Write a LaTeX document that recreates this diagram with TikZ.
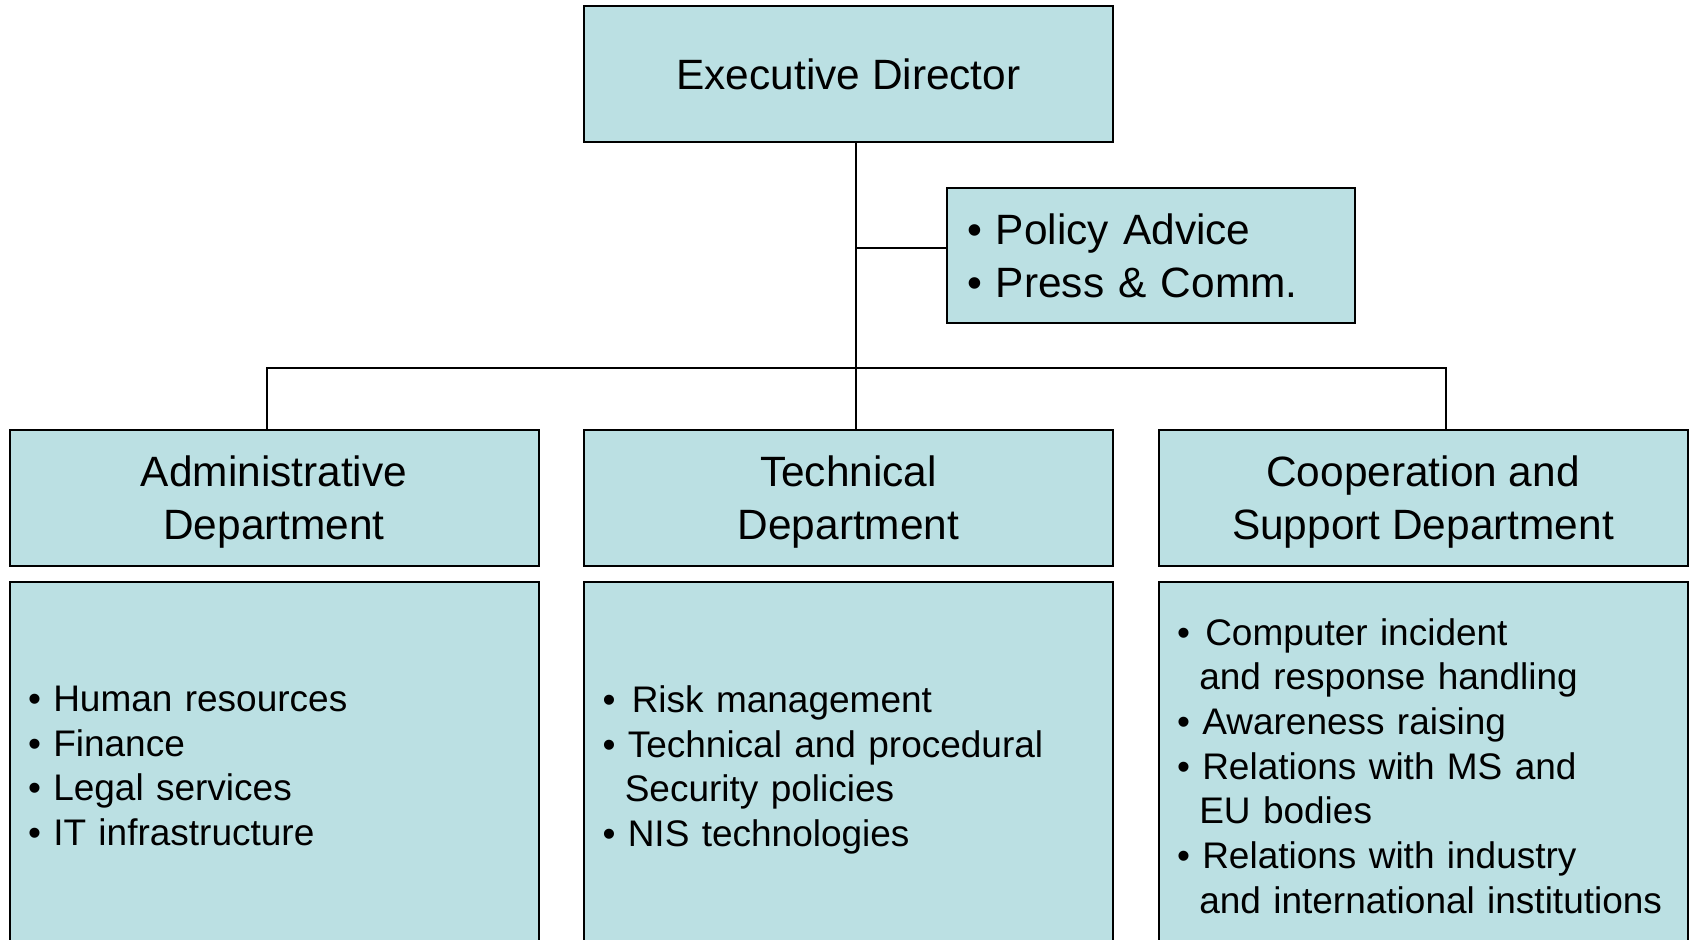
\documentclass[tikz,border=0pt]{standalone}
\usepackage{fontspec}
\setmainfont{Liberation Sans}
\definecolor{orgfill}{RGB}{187,224,227}

\begin{document}
\begin{tikzpicture}[
  box/.style={draw=black, line width=1pt, fill=orgfill, inner sep=0pt},
  head/.style={box, minimum width=264.5pt, minimum height=68pt, align=center, font=\fontsize{21.2}{26.5}\selectfont},
  dept/.style={head, text depth=-2pt},
  list/.style={box, minimum height=184pt, text width=246pt, inner xsep=9.25pt, align=left, font=\fontsize{18.5}{22.35}\selectfont},
  link/.style={line width=1pt}]
\def\itm{\textbullet\ }
\def\cnt{\hphantom{\textbullet\ }\hspace{-1.5pt}}
\useasboundingbox (0,0) rectangle (846.5pt,-470pt);
\clip (0,0) rectangle (846.5pt,-470pt);
% top level
\node[head] (ed) at (424.25pt,-37pt) {Executive Director};
\node[box, minimum width=204pt, minimum height=67.5pt, text width=184pt, inner xsep=10pt, align=left, font=\fontsize{21.2}{26.5}\selectfont] (pol) at (575.5pt,-127.75pt) {\itm Policy Advice\\ \itm Press \& Comm.};
% departments
\node[dept] (adm) at (137pt,-249pt) {Administrative\\ Department};
\node[dept] (tech) at (424.25pt,-249pt) {Technical\\ Department};
\node[dept] (coop) at (711.5pt,-249pt) {Cooperation and\\ Support Department};
% tasks
\node[list] (admlist) at (137pt,-383pt) {\itm Human resources\\ \itm Finance\\ \itm Legal services\\ \itm IT infrastructure};
\node[list, text depth=67pt] (techlist) at (424.25pt,-383pt) {\itm\hspace{2pt}Risk management\\ \itm Technical and procedural\\ \cnt Security policies\\ \itm NIS technologies};
\node[list] (cooplist) at (711.5pt,-383pt) {\itm\hspace{1.5pt}Computer incident\\ \cnt and response handling\\ \itm Awareness raising\\ \itm Relations with MS and\\ \cnt EU bodies\\ \itm Relations with industry\\ \cnt and international institutions};
% connectors
\coordinate (trunk) at ([xshift=3.5pt]ed.south);
\draw[link] (trunk) -- (trunk |- tech.north);
\draw[link] ([yshift=3.75pt]pol.west) -- ([yshift=3.75pt]pol.west -| trunk);
\draw[link] ([xshift=-3.5pt]adm.north) -- ++(0,30.5pt) -| ([xshift=11.5pt]coop.north);
\end{tikzpicture}
\end{document}
